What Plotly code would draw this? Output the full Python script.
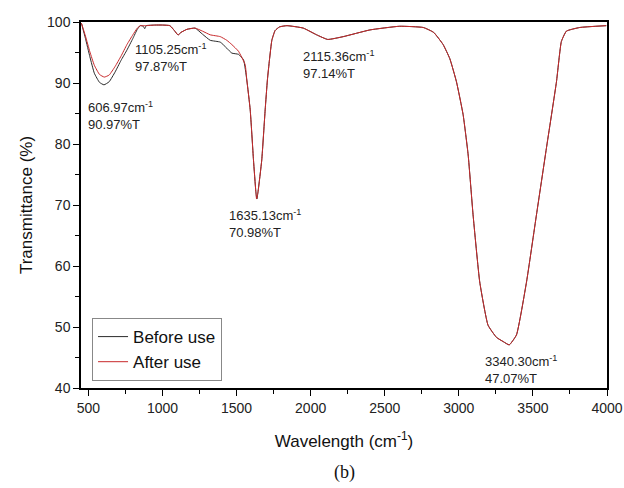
import plotly.graph_objects as go

# Wavenumber (cm-1) and transmittance (%)
before_x = [453, 480, 510, 540, 575, 605, 640, 680, 720, 760, 800, 830, 850, 870, 880, 890,
            950, 1000, 1050, 1080, 1105, 1125, 1165, 1220, 1270, 1322, 1390, 1434, 1468, 1513,
            1547, 1569, 1592, 1614, 1630, 1637, 1645, 1670, 1693, 1708, 1722, 1738, 1760, 1790,
            1840, 1950, 2040, 2115, 2220, 2400, 2600, 2760, 2830, 2894, 2939, 2984, 3029, 3063,
            3096, 3141, 3197, 3254, 3300, 3340, 3389, 3457, 3524, 3591, 3659, 3692, 3726, 3816, 3995]
before_y = [99.8, 97.3, 94.3, 91.6, 90.1, 89.7, 90.2, 91.8, 93.7, 95.4, 97.3, 98.8, 99.4, 99.3, 98.9, 99.4,
            99.5, 99.5, 99.4, 98.6, 97.87, 98.3, 98.8, 99.0, 98.0, 97.0, 96.7, 95.7, 94.9, 94.7,
            93.8, 90.5, 85.6, 77.4, 72.2, 70.98, 72.2, 77.4, 85.6, 90.5, 93.8, 97.0, 98.6, 99.2,
            99.4, 99.0, 97.9, 97.14, 97.6, 98.7, 99.3, 99.1, 98.3, 96.3, 94.0, 90.2, 84.8, 78.2,
            68.4, 57.4, 50.3, 48.3, 47.6, 47.07, 48.7, 57.4, 68.4, 79.3, 90.2, 96.8, 98.5, 99.1, 99.4]

after_x = [453, 480, 510, 540, 575, 607, 640, 680, 720, 760, 800, 830, 850, 870, 880, 890,
           950, 1000, 1050, 1080, 1105, 1125, 1165, 1220, 1270, 1322, 1390, 1434, 1468, 1513,
           1558, 1569, 1592, 1614, 1630, 1635, 1645, 1670, 1693, 1708, 1722, 1738, 1760, 1790,
           1840, 1950, 2040, 2115, 2220, 2400, 2600, 2760, 2830, 2894, 2939, 2984, 3029, 3063,
           3096, 3141, 3197, 3254, 3300, 3340, 3389, 3457, 3524, 3591, 3659, 3692, 3726, 3816, 3995]
after_y = [99.8, 97.7, 95.1, 92.9, 91.4, 90.97, 91.3, 92.7, 94.4, 96.3, 97.9, 99.0, 99.4, 99.4, 99.4, 99.4,
           99.5, 99.5, 99.4, 98.6, 97.87, 98.3, 98.8, 99.0, 98.5, 97.9, 97.6, 97.0, 96.3, 95.2,
           93.0, 90.5, 85.6, 77.4, 72.2, 70.98, 72.2, 77.4, 85.6, 90.5, 93.8, 97.0, 98.6, 99.2,
           99.4, 99.0, 97.9, 97.14, 97.6, 98.7, 99.3, 99.1, 98.3, 96.3, 94.0, 90.2, 84.8, 78.2,
           68.4, 57.4, 50.3, 48.3, 47.6, 47.07, 48.7, 57.4, 68.4, 79.3, 90.2, 96.8, 98.5, 99.1, 99.4]

peak_labels = ["606.97cm<sup>-1</sup><br>90.97%T",
               "1105.25cm<sup>-1</sup><br>97.87%T",
               "1635.13cm<sup>-1</sup><br>70.98%T",
               "2115.36cm<sup>-1</sup><br>97.14%T",
               "3340.30cm<sup>-1</sup><br>47.07%T"]
label_x = [487, 801, 1434, 1933, 3160]
label_y = [84.7, 94.2, 66.9, 93.1, 43.1]

FONT = "Liberation Sans, Arial, sans-serif"

fig = go.Figure()
fig.add_trace(go.Scatter(x=before_x, y=before_y, mode="lines", name="Before use",
                         line=dict(color="#2a2a2a", width=1, shape="spline", smoothing=0.4)))
fig.add_trace(go.Scatter(x=after_x, y=after_y, mode="lines", name="After use",
                         line=dict(color="#c8282a", width=1, shape="spline", smoothing=0.4)))

for t, x, y in zip(peak_labels, label_x, label_y):
    fig.add_annotation(x=x, y=y, text=t, showarrow=False, xanchor="left", yanchor="middle",
                       align="left", font=dict(family=FONT, size=13, color="#222"))

fig.add_annotation(x=0.5, y=-0.231, xref="paper", yref="paper", text="(b)", showarrow=False,
                   font=dict(family="Liberation Serif, Times New Roman, serif", size=18, color="#111"),
                   xanchor="center", yanchor="middle")

axis_common = dict(showline=True, linecolor="black", linewidth=1.5, mirror=True,
                   ticks="outside", ticklen=6, tickwidth=1.3, tickcolor="black",
                   showgrid=False, zeroline=False, automargin=False,
                   tickfont=dict(family=FONT, size=14, color="#222"))

fig.update_layout(
    width=624, height=488, autosize=False,
    margin=dict(l=81, r=17, t=22, b=100),
    paper_bgcolor="white", plot_bgcolor="white",
    showlegend=True,
    legend=dict(x=0.021, y=0.019, xanchor="left", yanchor="bottom",
                bordercolor="#888", borderwidth=1, bgcolor="white",
                font=dict(family=FONT, size=17, color="#111"),
                tracegroupgap=0),
    xaxis=dict(range=[450, 4000], tickvals=[500, 1000, 1500, 2000, 2500, 3000, 3500, 4000],
               minor=dict(ticks="outside", ticklen=4, tickwidth=1.2, tickcolor="black", dtick=250, tick0=250),
               title=dict(text="Wavelength (cm<sup>-1</sup>)", font=dict(family=FONT, size=17, color="#111"),
                          standoff=21),
               **axis_common),
    yaxis=dict(range=[40, 100], dtick=10,
               minor=dict(ticks="outside", ticklen=4, tickwidth=1.2, tickcolor="black", dtick=5),
               title=dict(text="Transmittance (%)", font=dict(family=FONT, size=17, color="#111"),
                          standoff=10),
               **axis_common),
)

fig.write_html("out.html", config={"displayModeBar": False, "responsive": False},
               default_width="624px", default_height="488px")

# remove the default page margin / scrollbars so the 624x488 figure fills the window exactly
with open("out.html", "r", encoding="utf-8") as f:
    html = f.read()
html = html.replace("<body>", '<body style="margin:0;padding:0;overflow:hidden;">', 1)
with open("out.html", "w", encoding="utf-8") as f:
    f.write(html)
